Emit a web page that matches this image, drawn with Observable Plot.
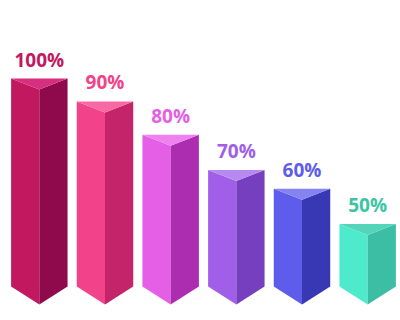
<!DOCTYPE html>
<html>
<head>
<meta charset="utf-8">
<script src="https://cdn.jsdelivr.net/npm/d3@7"></script>
<script src="https://cdn.jsdelivr.net/npm/@observablehq/plot@0.6"></script>
<style>
  html, body { margin: 0; padding: 0; background: #fff; }
</style>
</head>
<body>
<div id="chart"></div>
<script>
// Data
const labels = ["100%", "90%", "80%", "70%", "60%", "50%"];
const barHeights = [100, 89, 73, 56, 47, 30]; // drawn heights (bars are decorative, not proportional)
const frontColors = ["#C2185F", "#F2438A", "#E45EE6", "#A05EE9", "#5E5CEB", "#4DEBCB"];
const sideColors = ["#8E0A4C", "#C42469", "#AD2DB0", "#753FBF", "#3838B4", "#3BBEA4"];
const topColors = ["#D72F80", "#F868A2", "#EE80F0", "#B78AF2", "#8483F1", "#54D5BA"];
const labelColors = ["#C2185F", "#F2438A", "#E45EE6", "#A05EE9", "#5E5CEB", "#3DC4A2"];

const half = 0.43;     // half bar width, in slot units
const topDip = 5.3;    // depth of top triangle, in value units
const bottomDip = 8.7; // depth of bottom point, in value units

const bars = labels.map((label, i) => ({i, label, h: barHeights[i]}));
const faces = [];
bars.forEach(({i, h}) => {
  const x0 = i - half, x1 = i + half, xm = i;
  const pts = {
    left: [[x0, h], [xm, h - topDip], [xm, -bottomDip], [x0, 0]],
    right: [[xm, h - topDip], [x1, h], [x1, 0], [xm, -bottomDip]],
    top: [[x0, h], [x1, h], [xm, h - topDip]]
  };
  const cols = {left: frontColors[i], right: sideColors[i], top: topColors[i]};
  for (const k of ["left", "right", "top"]) {
    pts[k].forEach(([x, y]) => faces.push({id: `${i}-${k}`, x, y, color: cols[k]}));
  }
});

const chart = Plot.plot({
  width: 400,
  height: 320,
  margin: 0,
  x: {domain: [-0.5, 5.5], range: [6, 400], axis: null},
  y: {domain: [0, 100], range: [286, 78], axis: null},
  color: {type: "identity"},
  marks: [
    Plot.line(faces, {x: "x", y: "y", z: "id", fill: "color", stroke: "none"}),
    Plot.text(bars, {
      x: "i", y: "h", text: "label", dy: -18,
      fill: (d) => labelColors[d.i],
      fontSize: 19, fontWeight: 700, fontFamily: "'Open Sans', sans-serif"
    })
  ]
});
document.getElementById("chart").appendChild(chart);
</script>
</body>
</html>
